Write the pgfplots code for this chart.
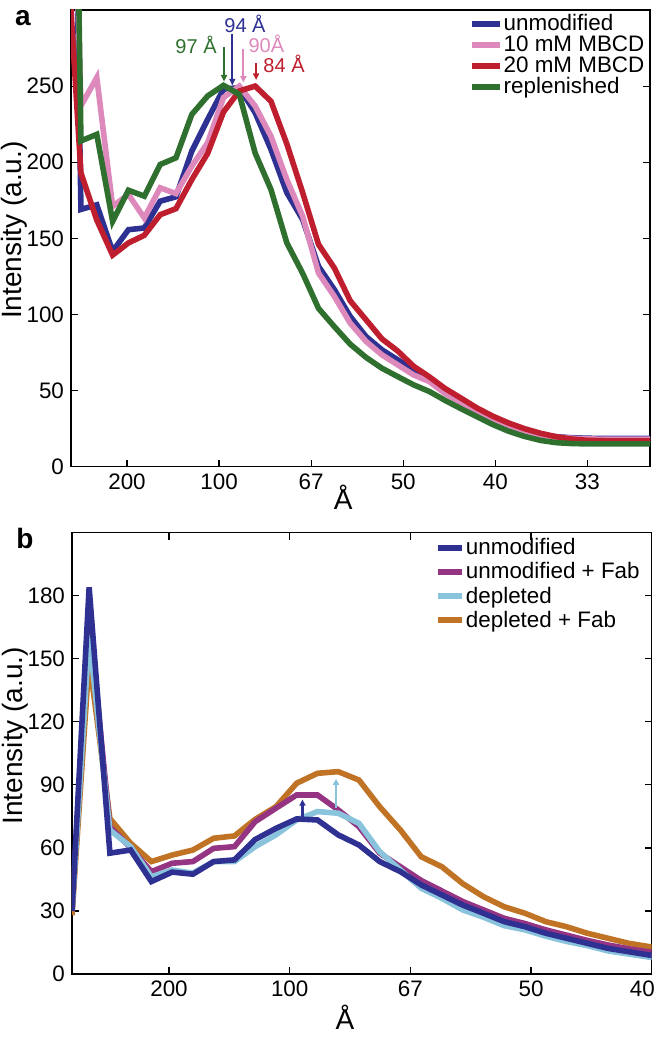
\documentclass[border=0pt]{standalone}
\usepackage{fontspec}
\setmainfont{Liberation Sans}
\usepackage{pgfplots}
\pgfplotsset{compat=1.18}
\usetikzlibrary{arrows.meta}

\definecolor{cUnmod}{RGB}{46,49,146}
\definecolor{cTen}{RGB}{221,137,187}
\definecolor{cTwenty}{RGB}{190,30,45}
\definecolor{cRepl}{RGB}{47,112,46}
\definecolor{cFab}{RGB}{150,52,132}
\definecolor{cDepl}{RGB}{138,196,220}
\definecolor{cDeplFab}{RGB}{192,115,36}

\newcommand{\tck}{\fontsize{11.2}{12}\selectfont}
\newcommand{\lab}{\fontsize{14}{16}\selectfont}
\newcommand{\pk}{\fontsize{10}{11}\selectfont}

\tikzset{arr/.style={line width=1pt, -{Triangle[length=3.3pt,width=3pt]}}}

\pgfplotsset{
  panel/.style={
    scale only axis, anchor=south west,
    axis line style={line width=0.6pt},
    every tick/.style={black, line width=0.6pt},
    major tick length=3.5pt, tick align=inside,
    tick label style={font=\tck},
    label style={font=\lab},
    /pgf/number format/assume math mode=true,
    legend cell align=left,
    legend style={draw=none, fill=none, font=\tck, inner sep=0pt,
      nodes={inner sep=0.6pt}},
    every axis plot/.append style={line width=2.8pt, no markers},
    ylabel={Intensity (a.u.)},
    xlabel={Å},
  },
}

\begin{document}
\begin{tikzpicture}
\path[use as bounding box] (0,0) rectangle (329pt,520pt);

% panel a
\begin{axis}[panel,
    at={(35.5pt,286.65pt)}, width=289.5pt, height=228.35pt,
    xmin=1.96, xmax=33.4, ymin=0, ymax=300,
    xtick={5,10,15,20,25,30}, xticklabels={200,100,67,50,40,33},
    xtick pos=bottom,
    ytick={0,50,100,150,200,250},
    xlabel style={at={(axis description cs:0.47,-0.066)}, anchor=center},
    ylabel style={at={(axis description cs:-0.098,0.518)}, anchor=center},
    legend style={at={(0.993,0.995)}, anchor=north east, row sep=0pt},
    legend image code/.code={\draw[#1, line width=3pt] (0pt,0pt) -- (14pt,0pt);},
]
\addplot[cUnmod] coordinates {
(1.64,800) (2.50,169) (3.36,172) (4.22,141.5) (5.08,155.7) (5.94,156.8)
(6.80,174.4) (7.66,177.3) (8.52,207.3) (9.38,228.1) (10.24,248) (11.10,249)
(11.96,232.5) (12.82,208.4) (13.68,180) (14.54,162.3) (15.40,131.6) (16.26,116.3)
(17.12,98.7) (17.98,85.5) (18.84,76.8) (19.70,70.2) (20.56,63.6) (21.42,57.5)
(22.28,49.2) (23.14,42.7) (24.00,37.3) (24.86,31.2) (25.72,26.6) (26.58,23.4)
(27.44,21.1) (28.30,19.7) (29.16,19) (30.02,18.7) (30.88,18.5) (31.74,18.5)
(32.60,18.5) (33.46,18.5)};
\addlegendentry{unmodified}
\addplot[cTen] coordinates {
(1.64,600) (2.50,237) (3.36,255.6) (4.22,171) (5.08,178.8) (5.94,163.4)
(6.80,183.2) (7.66,179.4) (8.52,197.4) (9.38,212.8) (10.24,242.5) (11.10,250)
(11.96,236.9) (12.82,217) (13.68,188.6) (14.54,164.5) (15.40,127.2) (16.26,111.9)
(17.12,94.3) (17.98,82.3) (18.84,73.5) (19.70,66.9) (20.56,60.3) (21.42,55.9)
(22.28,48) (23.14,42) (24.00,36.5) (24.86,31) (25.72,26.5) (26.58,23.3)
(27.44,21) (28.30,19.5) (29.16,18.7) (30.02,18.3) (30.88,18) (31.74,18)
(32.60,18) (33.46,18)};
\addlegendentry{10 mM MBCD}
\addplot[cTwenty] coordinates {
(1.64,363) (2.50,193) (3.36,162) (4.22,139) (5.08,147) (5.94,152)
(6.80,165.5) (7.66,169.5) (8.52,188.6) (9.38,205.8) (10.24,233) (11.10,246.8)
(11.96,250) (12.82,240) (13.68,212) (14.54,180) (15.40,146) (16.26,130.5)
(17.12,109) (17.98,96.5) (18.84,84) (19.70,76) (20.56,66) (21.42,59)
(22.28,51.3) (23.14,45) (24.00,38.6) (24.86,33.2) (25.72,28.7) (26.58,25)
(27.44,22) (28.30,19.7) (29.16,18.1) (30.02,17.3) (30.88,17) (31.74,17)
(32.60,17) (33.46,17)};
\addlegendentry{20 mM MBCD}
\addplot[cRepl] coordinates {
(1.64,900) (2.50,214) (3.36,218.3) (4.22,161.2) (5.08,181.6) (5.94,177.7)
(6.80,198.5) (7.66,202.9) (8.52,231.4) (9.38,243.5) (10.24,250.5) (11.10,244.6)
(11.96,206) (12.82,182) (13.68,147) (14.54,127) (15.40,104) (16.26,92)
(17.12,80.5) (17.98,71.8) (18.84,64.7) (19.70,59.2) (20.56,53.8) (21.42,49.4)
(22.28,43.5) (23.14,38.1) (24.00,32.9) (24.86,27.7) (25.72,23.3) (26.58,19.9)
(27.44,17.3) (28.30,15.8) (29.16,15.2) (30.02,15) (30.88,15) (31.74,15)
(32.60,15) (33.46,15)};
\addlegendentry{replenished}

\draw[arr, cRepl] (axis cs:10.27,275.5) -- (axis cs:10.27,253);
\draw[arr, cUnmod] (axis cs:10.72,284) -- (axis cs:10.72,250.5);
\draw[arr, cTen] (axis cs:11.32,274.6) -- (axis cs:11.32,252.3);
\draw[arr, cTwenty] (axis cs:12.01,265.4) -- (axis cs:12.01,254);
\node[cRepl, font=\pk, inner sep=0pt, anchor=east] at (axis cs:9.89,277) {97 Å};
\node[cUnmod, font=\pk, inner sep=0pt, anchor=west] at (axis cs:10.27,290.6) {94 Å};
\node[cTen, font=\pk, inner sep=0pt, anchor=west] at (axis cs:11.58,277.8) {90Å};
\node[cTwenty, font=\pk, inner sep=0pt, anchor=west] at (axis cs:12.39,264.6) {84 Å};
\end{axis}

% panel b
\begin{axis}[panel,
    at={(36pt,33pt)}, width=289.85pt, height=220.65pt,
    xmin=0.98, xmax=25, ymin=0, ymax=210,
    xtick={5,10,15,20,25}, xticklabels={200,100,67,50,40\hphantom{0.}},
    ytick={0,30,60,90,120,150,180},
    xlabel style={at={(axis description cs:0.471,-0.097)}, anchor=center},
    ylabel style={at={(axis description cs:-0.098,0.54)}, anchor=center},
    legend style={at={(0.982,0.99)}, anchor=north east, row sep=1.2pt},
    legend image code/.code={\draw[#1, line width=3pt] (0pt,0pt) -- (12pt,0pt);},
]
\addlegendimage{cUnmod}\addlegendentry{unmodified}
\addlegendimage{cFab}\addlegendentry{unmodified + Fab}
\addlegendimage{cDepl}\addlegendentry{depleted}
\addlegendimage{cDeplFab}\addlegendentry{depleted + Fab}

\addplot[cDeplFab, forget plot] coordinates {
(0.98,28) (1.69,150) (2.55,74) (3.41,62.2) (4.27,53.5) (5.13,56.6) (5.99,59)
(6.85,64.6) (7.71,65.7) (8.57,73.6) (9.43,79.6) (10.29,90.8) (11.15,95.5)
(12.01,96.3) (12.87,92.3) (13.73,79.6) (14.59,68.5) (15.45,55.8) (16.31,51)
(17.17,43) (18.03,36.8) (18.89,32) (19.75,28.9) (20.61,24.9) (21.47,22.5)
(22.33,19.4) (23.19,17) (24.05,14.6) (24.91,13) (25.77,11.5)};
\addplot[cFab, forget plot] coordinates {
(0.98,30) (1.69,170) (2.55,70) (3.41,60) (4.27,48.7) (5.13,52.7) (5.99,53.5)
(6.85,59.8) (7.71,60.6) (8.57,72.5) (9.43,78.9) (10.29,85.2) (11.15,85.2)
(12.01,78.1) (12.87,70.1) (13.73,57.5) (14.59,51) (15.45,44.5) (16.31,39.5)
(17.17,34.5) (18.03,30.5) (18.89,26.5) (19.75,24) (20.61,21) (21.47,18.5)
(22.33,16) (23.19,13.8) (24.05,12) (24.91,10.5) (25.77,9.5)};
\addplot[cDepl, forget plot] coordinates {
(0.98,30) (1.69,161) (2.55,68.5) (3.41,60.6) (4.27,46.3) (5.13,49.5) (5.99,48)
(6.85,53.5) (7.71,53.5) (8.57,60.6) (9.43,66.2) (10.29,73.3) (11.15,77.3)
(12.01,76.5) (12.87,71.7) (13.73,58.2) (14.59,49.5) (15.45,40.8) (16.31,36)
(17.17,30.5) (18.03,27) (18.89,23) (19.75,21) (20.61,18) (21.47,15.5)
(22.33,13.5) (23.19,11) (24.05,9.5) (24.91,8) (25.77,7)};
\addplot[cUnmod, forget plot] coordinates {
(0.98,30) (1.69,184) (2.55,57.5) (3.41,59) (4.27,44) (5.13,48.5) (5.99,47.5)
(6.85,53.5) (7.71,54.3) (8.57,64) (9.43,69.3) (10.29,73.8) (11.15,73.3)
(12.01,66.2) (12.87,61.4) (13.73,53.5) (14.59,48.7) (15.45,42.4) (16.31,37.6)
(17.17,32.8) (18.03,28.9) (18.89,24.9) (19.75,22.5) (20.61,19.4) (21.47,17)
(22.33,14.6) (23.19,12.2) (24.05,10.6) (24.91,9) (25.77,8)};

\draw[cUnmod, line width=1.3pt, -{Triangle[length=3pt,width=3pt]}] (axis cs:10.53,74.7) -- (axis cs:10.53,83);
\draw[cDepl, line width=1.4pt, -{Triangle[length=3pt,width=3.2pt]}] (axis cs:11.92,79) -- (axis cs:11.92,92.8);
\end{axis}

\node[font=\fontsize{14}{16}\selectfont\bfseries, inner sep=0pt] at (11.5pt,511pt) {a};
\node[font=\fontsize{14}{16}\selectfont\bfseries, inner sep=0pt] at (12.5pt,251pt) {b};
\end{tikzpicture}
\end{document}
